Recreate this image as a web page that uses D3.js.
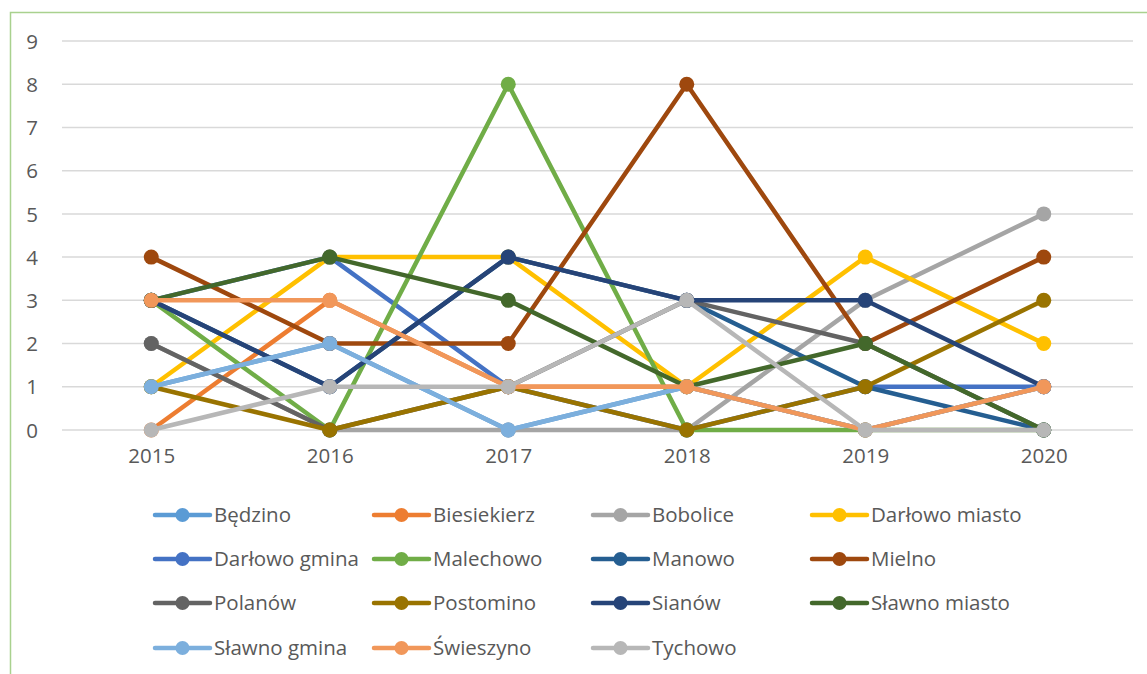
<!DOCTYPE html>
<html>
<head>
<meta charset="utf-8">
<script src="https://cdn.jsdelivr.net/npm/d3@7"></script>
<style>
  html, body { margin: 0; padding: 0; background: #fff; }
  svg { display: block; }
  text { font-family: "Open Sans", "Noto Sans", sans-serif; fill: #595959; }
</style>
</head>
<body>
<svg id="chart" width="1147" height="674"></svg>
<script>
const years = ["2015", "2016", "2017", "2018", "2019", "2020"];
const yTicks = [0, 1, 2, 3, 4, 5, 6, 7, 8, 9];
const seriesNames = ["Będzino", "Biesiekierz", "Bobolice", "Darłowo miasto", "Darłowo gmina",
  "Malechowo", "Manowo", "Mielno", "Polanów", "Postomino", "Sianów", "Sławno miasto",
  "Sławno gmina", "Świeszyno", "Tychowo"];
const seriesColors = ["#5B9BD5", "#ED7D31", "#A5A5A5", "#FFC000", "#4472C4",
  "#70AD47", "#255E91", "#9E480E", "#636363", "#997300", "#264478", "#43682B",
  "#7CAFDD", "#F1975A", "#B7B7B7"];
const bedzino       = [1, 2, 0, 1, 0, 1];
const biesiekierz   = [0, 3, 1, 1, 0, 1];
const bobolice      = [2, 0, 0, 0, 3, 5];
const darlowoMiasto = [1, 4, 4, 1, 4, 2];
const darlowoGmina  = [3, 4, 1, 0, 1, 1];
const malechowo     = [3, 0, 8, 0, 0, 0];
const manowo        = [3, 1, 4, 3, 1, 0];
const mielno        = [4, 2, 2, 8, 2, 4];
const polanow       = [2, 0, 1, 3, 2, 0];
const postomino     = [1, 0, 1, 0, 1, 3];
const sianow        = [3, 1, 4, 3, 3, 1];
const slawnoMiasto  = [3, 4, 3, 1, 2, 0];
const slawnoGmina   = [1, 2, 0, 1, 0, 1];
const swieszyno     = [3, 3, 1, 1, 0, 1];
const tychowo       = [0, 1, 1, 3, 0, 0];
const seriesValues = [bedzino, biesiekierz, bobolice, darlowoMiasto, darlowoGmina,
  malechowo, manowo, mielno, polanow, postomino, sianow, slawnoMiasto,
  slawnoGmina, swieszyno, tychowo];

const series = seriesNames.map((name, i) => ({
  name, color: seriesColors[i],
  values: seriesValues[i].map((v, j) => ({ year: years[j], value: v }))
}));

const svg = d3.select("#chart");

// outer border (top + left visible)
svg.append("path")
  .attr("d", "M10.5,674 L10.5,12.5 L1147,12.5")
  .attr("fill", "none").attr("stroke", "#A9D18E").attr("stroke-width", 1.5);

const x = d3.scalePoint().domain(years).range([62, 1133]).padding(0.5);
const y = d3.scaleLinear().domain([0, 9]).range([430, 41]);

// gridlines
svg.append("g").selectAll("line").data(yTicks).join("line")
  .attr("x1", 62).attr("x2", 1133)
  .attr("y1", d => y(d)).attr("y2", d => y(d))
  .attr("stroke", "#D9D9D9").attr("stroke-width", 1.5);

// y axis labels
const yAxis = d3.axisLeft(y).tickValues(yTicks).tickSize(0).tickPadding(0);
const gy = svg.append("g").attr("transform", "translate(38,0)").call(yAxis);
gy.select(".domain").remove();
gy.selectAll("text").attr("font-size", 20.5).attr("font-family", null).attr("fill", null)
  .attr("dy", "0.35em");

// x axis labels
const xAxis = d3.axisBottom(x).tickSize(0).tickPadding(0);
const gx = svg.append("g").attr("transform", "translate(0,448)").call(xAxis);
gx.select(".domain").remove();
gx.selectAll("text").attr("font-size", 20.5).attr("font-family", null).attr("fill", null)
  .attr("dy", "0.71em");

// series
const line = d3.line().x(d => x(d.year)).y(d => y(d.value));
series.forEach(s => {
  const g = svg.append("g");
  g.append("path").datum(s.values).attr("d", line)
    .attr("fill", "none").attr("stroke", s.color).attr("stroke-width", 4.5)
    .attr("stroke-linejoin", "round").attr("stroke-linecap", "round");
  g.selectAll("circle").data(s.values).join("circle")
    .attr("cx", d => x(d.year)).attr("cy", d => y(d.value)).attr("r", 7.5)
    .attr("fill", s.color);
});

// legend
const legX = [155, 374, 593, 812];
const legY = [515, 559, 603, 648];
const leg = svg.append("g");
series.forEach((s, i) => {
  const cx = legX[i % 4], cy = legY[Math.floor(i / 4)];
  const g = leg.append("g").attr("transform", `translate(${cx},${cy})`);
  g.append("line").attr("x1", 0).attr("x2", 55).attr("y1", 0).attr("y2", 0)
    .attr("stroke", s.color).attr("stroke-width", 4.5).attr("stroke-linecap", "round");
  g.append("circle").attr("cx", 27.5).attr("cy", 0).attr("r", 7).attr("fill", s.color);
  g.append("text").attr("x", 59).attr("y", 0).attr("dy", "0.35em")
    .attr("font-size", 20.5).text(s.name);
});
</script>
</body>
</html>
